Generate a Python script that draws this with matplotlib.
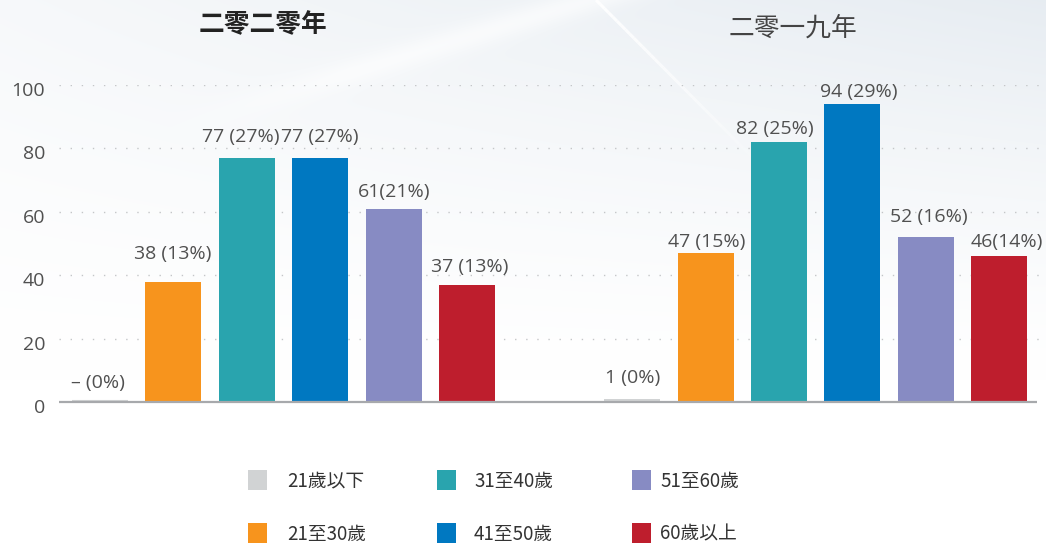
import numpy as np
import matplotlib
matplotlib.use("Agg")
import matplotlib.pyplot as plt
from matplotlib.patches import Rectangle
from matplotlib.transforms import ScaledTranslation, offset_copy

plt.rcParams['font.family'] = ['Open Sans', 'Noto Sans CJK TC', 'DejaVu Sans']

# ---------------- data ----------------
categories = ['21歲以下', '21至30歲', '31至40歲', '41至50歲', '51至60歲', '60歲以上']
years = ['二零二零年', '二零一九年']
values_2020 = [0, 38, 77, 77, 61, 37]
values_2019 = [1, 47, 82, 94, 52, 46]
labels_2020 = ['– (0%)', '38 (13%)', '77 (27%)', '77 (27%)', '61(21%)', '37 (13%)']
labels_2019 = ['1 (0%)', '47 (15%)', '82 (25%)', '94 (29%)', '52 (16%)', '46(14%)']
yticks = [0, 20, 40, 60, 80, 100]

colors = ['#d1d3d4', '#f7941d', '#29a4ae', '#0078c1', '#878bc3', '#be1e2d']

# label nudges (pixels): horizontal shift, gap above bar top
label_dx = [[-2, -1, -6, 0, 1, 3], [0, 1, -4, 6, 3, 8]]
label_gap = [[14, 23, 16, 16, 12, 13], [16, 6, 8, 7, 15, 9]]

W, H = 1046, 547
fig = plt.figure(figsize=(W / 100, H / 100), dpi=100)
fig.patch.set_facecolor('white')

# ---------------- background ----------------
bg = fig.add_axes([0, 0, 1, 1], zorder=-10)
yy, xx = np.mgrid[0:H, 0:W].astype(float)
inten = np.clip(1 - yy / 380.0, 0, 1) ** 1.3 * (0.35 + 0.65 * xx / W)
# soft white band rising from left toward the top
p0 = np.array([440.0, 45.0]); p1 = np.array([620.0, -10.0])
d = p1 - p0; nrm = np.array([-d[1], d[0]]) / np.hypot(*d)
dist = (xx - p0[0]) * nrm[0] + (yy - p0[1]) * nrm[1]
along = ((xx - p0[0]) * d[0] + (yy - p0[1]) * d[1]) / np.dot(d, d)
band = np.exp(-(dist / 14.0) ** 2) * np.clip(along + 1.5, 0, 1) * 0.6
inten = inten * (1 - band)
tint = np.array([0.905, 0.927, 0.948])
img = np.ones((H, W, 3)) * (1 - inten[..., None]) + tint * inten[..., None]
bg.imshow(img, extent=[0, W, H, 0], aspect='auto')
bg.set_xlim(0, W)
bg.set_ylim(H, 0)
bg.axis('off')
# faint white diagonal streak
n = 40
xs = np.linspace(596, 760, n)
ys = np.linspace(0, 165, n)
for i in range(n - 1):
    bg.plot(xs[i:i + 2], ys[i:i + 2], color='white', lw=2.2,
            alpha=0.95 * (1 - i / n) ** 0.8, solid_capstyle='butt')

# ---------------- main axes ----------------
ax = fig.add_axes([59 / W, (H - 402) / H, (1040 - 59) / W, (402 - 85) / H])
ax.set_facecolor('none')
step_px = 73.4
x0_px = 100
group_offset = 7.25
bar_w = 56 / step_px
ax.set_xlim((59 - x0_px) / step_px, (1040 - x0_px) / step_px)
ax.set_ylim(0, 100)

all_vals = [values_2020, values_2019]
all_labels = [labels_2020, labels_2019]
for g, (vals, labs) in enumerate(zip(all_vals, all_labels)):
    pos = np.arange(len(categories)) + g * group_offset
    ax.bar(pos, vals, width=bar_w, color=colors, zorder=3, linewidth=0)
    for i, (p, v, lab) in enumerate(zip(pos, vals, labs)):
        tr = offset_copy(ax.transData, fig=fig, x=label_dx[g][i], y=label_gap[g][i], units='dots')
        ax.text(p, v, lab, transform=tr, ha='center', va='baseline',
                fontsize=14, color='#505050', zorder=4)

# zero-height bar marker
ax.plot([0 - bar_w / 2, 0 + bar_w / 2], [0.35, 0.35], color='#d1d3d4', lw=1.5,
        zorder=4, solid_capstyle='butt', clip_on=False)

for t in yticks[1:]:
    ax.axhline(t, color='#c4c6c8', lw=1.0, linestyle=(0, (1, 7)), zorder=1)
ax.plot([(59 - x0_px) / step_px, (1037 - x0_px) / step_px], [0, 0],
        color='#a7a9ac', lw=1.6, zorder=5, clip_on=False, solid_capstyle='butt')

for s in ax.spines.values():
    s.set_visible(False)
ax.set_xticks([])
ax.set_yticks(yticks)
ax.set_yticklabels([str(t) for t in yticks])
ax.tick_params(axis='y', length=0, pad=10, labelsize=14, labelcolor='#505050')
for lbl in ax.get_yticklabels():
    lbl.set_transform(lbl.get_transform() + ScaledTranslation(0, -4 / 100, fig.dpi_scale_trans))

# ---------------- titles ----------------
cjk = ['Noto Sans CJK TC', 'DejaVu Sans']
fig.text(263 / W, 1 - 25 / H, years[0], ha='center', va='center', fontsize=18.5,
         fontweight='bold', color='#222222', family=cjk)
fig.text(793 / W, 1 - 29 / H, years[1], ha='center', va='center', fontsize=18.5,
         color='#444444', family=cjk)

# ---------------- legend ----------------
sq_x = [248, 437, 632]
txt_x = [287, 474, 660]
row_y = [480, 533]
for i, (cat, col) in enumerate(zip(categories, colors)):
    c, r = i // 2, i % 2
    fig.patches.append(Rectangle((sq_x[c] / W, 1 - (row_y[r] + 10) / H), 19 / W, 20 / H,
                                 transform=fig.transFigure, facecolor=col, edgecolor='none'))
    fig.text(txt_x[c] / W, 1 - (row_y[r] + 1) / H, cat, ha='left', va='center',
             fontsize=13.5, color='#333333', family=cjk)

fig.savefig('out.png', dpi=100)
